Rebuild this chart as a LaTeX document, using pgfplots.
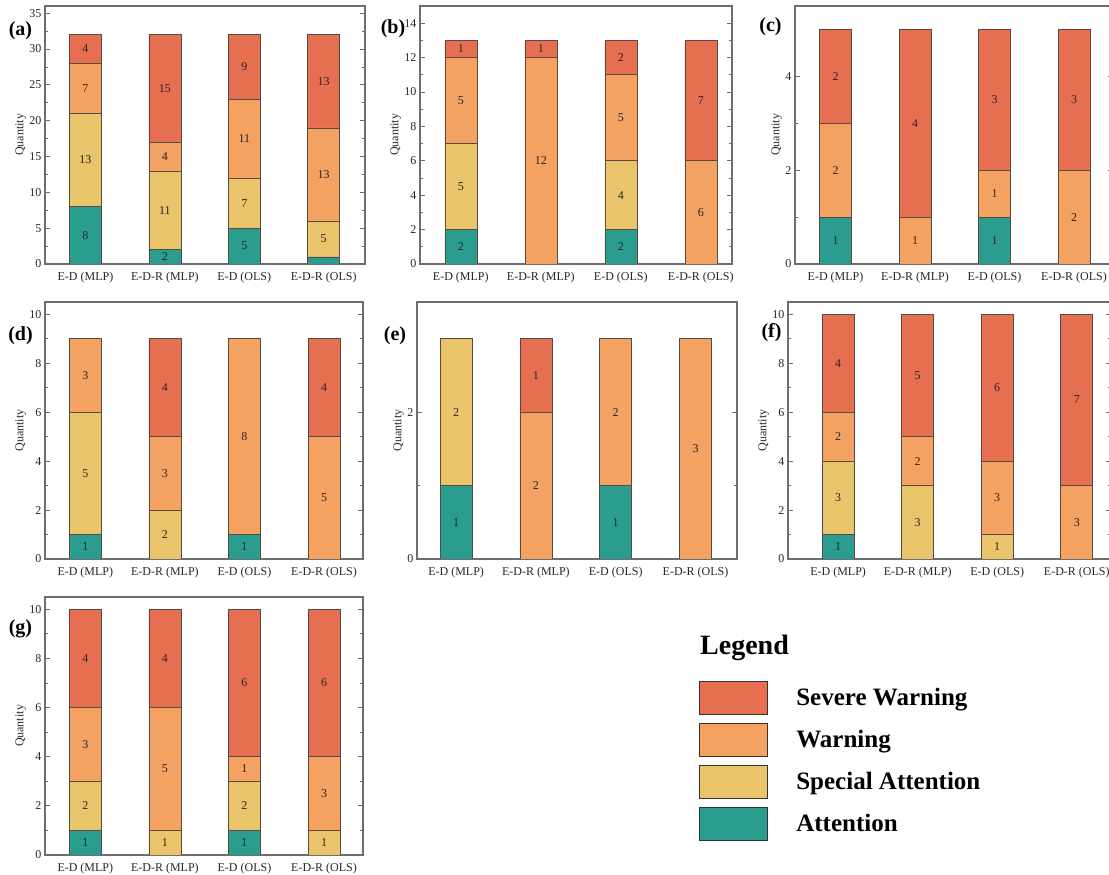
\documentclass[border=0pt]{standalone}
\usepackage{fontspec}
\setmainfont{Liberation Serif}
\usepackage{pgfplots}
\pgfplotsset{compat=1.18}
\definecolor{cA}{HTML}{2A9D8F}
\definecolor{cS}{HTML}{E9C46A}
\definecolor{cW}{HTML}{F4A261}
\definecolor{cR}{HTML}{E76F51}
\definecolor{edge}{HTML}{5A4A42}
\definecolor{frame}{HTML}{6E6E6E}
\pgfplotsset{
  panel/.style={
    scale only axis, anchor=south west,
    ybar stacked, bar width=32pt, ymin=0,
    xtick={0,1,2,3},
    xticklabels={E-D (MLP),E-D-R (MLP),E-D (OLS),E-D-R (OLS)},
    major x tick style={draw=none},
    xticklabel style={yshift=-5pt},
    ytick pos=both, yticklabel pos=left,
    tick align=inside,
    major tick length=5pt, minor tick length=3pt,
    minor y tick num=1,
    axis line style={draw=frame, line width=1.1pt},
    tick style={draw=frame, line width=0.8pt},
    ticklabel style={font=\fontsize{12}{14}\selectfont, text=black!85},
    /pgf/number format/assume math mode=true,
    ylabel=Quantity,
    ylabel style={font=\fontsize{12}{14}\selectfont, inner sep=0pt, text=black!85},
    every axis plot/.append style={draw=edge, line width=0.6pt},
  },
  labaxis/.style={scale only axis, anchor=south west, hide axis, clip=false, ymin=0},
  lab/.style={draw=none, mark=none, nodes near coords, point meta=explicit symbolic,
    nodes near coords style={anchor=center, inner sep=0pt, font=\fontsize{12}{14}\selectfont, text=black!85}},
  lgd/.style={legend image code/.code={\draw[##1, draw=black!80, line width=1.2pt] (0pt,-9pt) rectangle (68pt,24pt);}},
  geoA/.style={at={(45pt,611pt)}, width=320pt, height=258pt, xmin=-0.51, xmax=3.52, ymax=36},
  geoB/.style={at={(420pt,611pt)}, width=312pt, height=258pt, xmin=-0.51, xmax=3.39, ymax=15},
  geoC/.style={at={(795pt,611pt)}, width=318pt, height=258pt, xmin=-0.51, xmax=3.49, ymax=5.5},
  geoD/.style={at={(45pt,316pt)}, width=318pt, height=257pt, xmin=-0.507, xmax=3.49, ymax=10.5},
  geoE/.style={at={(417pt,316pt)}, width=320pt, height=257pt, xmin=-0.49, xmax=3.52, ymax=3.5},
  geoF/.style={at={(788pt,316pt)}, width=323pt, height=257pt, xmin=-0.63, xmax=3.43, ymax=10.5},
  geoG/.style={at={(45pt,20pt)}, width=318pt, height=258pt, xmin=-0.507, xmax=3.49, ymax=10.5},
}
\begin{document}
\begin{tikzpicture}
\path[use as bounding box] (0,0) rectangle (1109pt,875pt);
\clip (0,0) rectangle (1109pt,875pt);

% (a)
\begin{axis}[panel, geoA, ytick={0,5,...,35}]
\addplot[fill=cA] coordinates {(0,8)(1,2)(2,5)(3,1)};
\addplot[fill=cS] coordinates {(0,13)(1,11)(2,7)(3,5)};
\addplot[fill=cW] coordinates {(0,7)(1,4)(2,11)(3,13)};
\addplot[fill=cR] coordinates {(0,4)(1,15)(2,9)(3,13)};
\end{axis}
\begin{axis}[labaxis, geoA]
\addplot[lab] coordinates {(0,4)[8] (0,14.5)[13] (0,24.5)[7] (0,30)[4] (1,1)[2] (1,7.5)[11] (1,15)[4] (1,24.5)[15] (2,2.5)[5] (2,8.5)[7] (2,17.5)[11] (2,27.5)[9] (3,3.5)[5] (3,12.5)[13] (3,25.5)[13]};
\end{axis}

% (b)
\begin{axis}[panel, geoB, ytick={0,2,...,14}]
\addplot[fill=cA] coordinates {(0,2)(1,0)(2,2)(3,0)};
\addplot[fill=cS] coordinates {(0,5)(1,0)(2,4)(3,0)};
\addplot[fill=cW] coordinates {(0,5)(1,12)(2,5)(3,6)};
\addplot[fill=cR] coordinates {(0,1)(1,1)(2,2)(3,7)};
\end{axis}
\begin{axis}[labaxis, geoB]
\addplot[lab] coordinates {(0,1)[2] (0,4.5)[5] (0,9.5)[5] (0,12.5)[1] (1,6)[12] (1,12.5)[1] (2,1)[2] (2,4)[4] (2,8.5)[5] (2,12)[2] (3,3)[6] (3,9.5)[7]};
\end{axis}

% (c)
\begin{axis}[panel, geoC, ytick={0,2,4}]
\addplot[fill=cA] coordinates {(0,1)(1,0)(2,1)(3,0)};
\addplot[fill=cS] coordinates {(0,0)(1,0)(2,0)(3,0)};
\addplot[fill=cW] coordinates {(0,2)(1,1)(2,1)(3,2)};
\addplot[fill=cR] coordinates {(0,2)(1,4)(2,3)(3,3)};
\end{axis}
\begin{axis}[labaxis, geoC]
\addplot[lab] coordinates {(0,0.5)[1] (0,2)[2] (0,4)[2] (1,0.5)[1] (1,3)[4] (2,0.5)[1] (2,1.5)[1] (2,3.5)[3] (3,1)[2] (3,3.5)[3]};
\end{axis}

% (d)
\begin{axis}[panel, geoD, ytick={0,2,...,10}]
\addplot[fill=cA] coordinates {(0,1)(1,0)(2,1)(3,0)};
\addplot[fill=cS] coordinates {(0,5)(1,2)(2,0)(3,0)};
\addplot[fill=cW] coordinates {(0,3)(1,3)(2,8)(3,5)};
\addplot[fill=cR] coordinates {(0,0)(1,4)(2,0)(3,4)};
\end{axis}
\begin{axis}[labaxis, geoD]
\addplot[lab] coordinates {(0,0.5)[1] (0,3.5)[5] (0,7.5)[3] (1,1)[2] (1,3.5)[3] (1,7)[4] (2,0.5)[1] (2,5)[8] (3,2.5)[5] (3,7)[4]};
\end{axis}

% (e)
\begin{axis}[panel, geoE, ytick={0,2}]
\addplot[fill=cA] coordinates {(0,1)(1,0)(2,1)(3,0)};
\addplot[fill=cS] coordinates {(0,2)(1,0)(2,0)(3,0)};
\addplot[fill=cW] coordinates {(0,0)(1,2)(2,2)(3,3)};
\addplot[fill=cR] coordinates {(0,0)(1,1)(2,0)(3,0)};
\end{axis}
\begin{axis}[labaxis, geoE]
\addplot[lab] coordinates {(0,0.5)[1] (0,2)[2] (1,1)[2] (1,2.5)[1] (2,0.5)[1] (2,2)[2] (3,1.5)[3]};
\end{axis}

% (f)
\begin{axis}[panel, geoF, ytick={0,2,...,10}]
\addplot[fill=cA] coordinates {(0,1)(1,0)(2,0)(3,0)};
\addplot[fill=cS] coordinates {(0,3)(1,3)(2,1)(3,0)};
\addplot[fill=cW] coordinates {(0,2)(1,2)(2,3)(3,3)};
\addplot[fill=cR] coordinates {(0,4)(1,5)(2,6)(3,7)};
\end{axis}
\begin{axis}[labaxis, geoF]
\addplot[lab] coordinates {(0,0.5)[1] (0,2.5)[3] (0,5)[2] (0,8)[4] (1,1.5)[3] (1,4)[2] (1,7.5)[5] (2,0.5)[1] (2,2.5)[3] (2,7)[6] (3,1.5)[3] (3,6.5)[7]};
\end{axis}

% (g)
\begin{axis}[panel, geoG, ytick={0,2,...,10},
  legend style={at={(axis description cs:2.057,0.674)}, anchor=north west, draw=none, fill=none,
    inner sep=0pt, outer sep=0pt, row sep=7.7pt, column sep=28pt,
    nodes={inner sep=0pt, anchor=base west}, font=\fontsize{25}{30}\bfseries\selectfont, text=black},
  legend cell align=left, reverse legend]
\addplot[fill=cA, lgd] coordinates {(0,1)(1,0)(2,1)(3,0)};
\addplot[fill=cS, lgd] coordinates {(0,2)(1,1)(2,2)(3,1)};
\addplot[fill=cW, lgd] coordinates {(0,3)(1,5)(2,1)(3,3)};
\addplot[fill=cR, lgd] coordinates {(0,4)(1,4)(2,6)(3,6)};
\legend{Attention, Special Attention, Warning, Severe Warning}
\end{axis}
\begin{axis}[labaxis, geoG]
\addplot[lab] coordinates {(0,0.5)[1] (0,2)[2] (0,4.5)[3] (0,8)[4] (1,0.5)[1] (1,3.5)[5] (1,8)[4] (2,0.5)[1] (2,2)[2] (2,3.5)[1] (2,7)[6] (3,0.5)[1] (3,2.5)[3] (3,7)[6]};
\end{axis}

% panel letters and legend heading
\begin{scope}[every node/.style={inner sep=0pt, font=\fontsize{20}{24}\bfseries\selectfont}]
\node at (20.5pt,844pt) {(a)};
\node at (393pt,846pt) {(b)};
\node at (770.5pt,848.5pt) {(c)};
\node at (20.5pt,539pt) {(d)};
\node at (395pt,539pt) {(e)};
\node at (771.5pt,542.5pt) {(f)};
\node at (20.5pt,246pt) {(g)};
\node[anchor=base west, font=\fontsize{28}{34}\bfseries\selectfont] at (700pt,220pt) {Legend};
\end{scope}
\end{tikzpicture}
\end{document}
